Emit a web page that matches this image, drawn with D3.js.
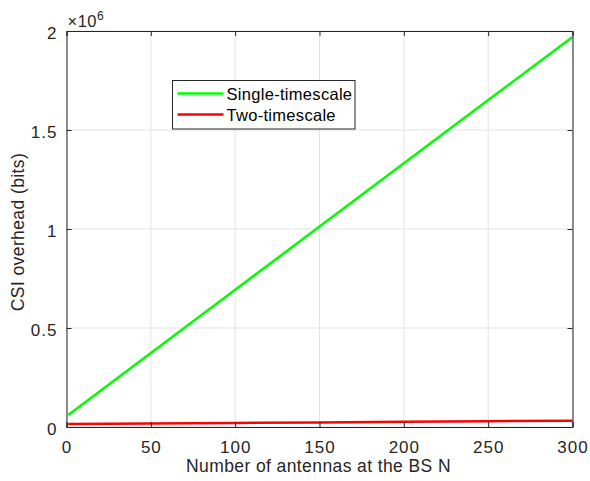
<!DOCTYPE html>
<html>
<head>
<meta charset="utf-8">
<script src="https://cdn.jsdelivr.net/npm/d3@7"></script>
<style>
  html, body { margin: 0; padding: 0; background: #fff; }
  svg { display: block; font-family: "Liberation Sans", Arial, sans-serif; }
</style>
</head>
<body>
<svg id="chart" width="590" height="481"></svg>
<script>
// Number of BS antennas
const antennas = [1, 50, 100, 150, 200, 250, 300];
// CSI overhead in bits for each scheme
const singleTimescale = [61000, 374000, 693000, 1012000, 1332000, 1651000, 1970000];
const twoTimescale = [15000, 18000, 20500, 23000, 26000, 29000, 32000];
const xTicks = [0, 50, 100, 150, 200, 250, 300];
const yTicks = [0, 0.5e6, 1e6, 1.5e6, 2e6];
const seriesNames = ["Single-timescale", "Two-timescale"];
const seriesColors = ["#00ff00", "#ff0000"];

const svg = d3.select("#chart");
const m = { left: 66.5, right: 572.5, top: 31, bottom: 427 };
const axisColor = "#262626";

const x = d3.scaleLinear().domain([0, 300]).range([m.left, m.right]);
const y = d3.scaleLinear().domain([0, 2e6]).range([m.bottom, m.top]);

// grid
svg.append("g").selectAll("line.vg").data(xTicks).join("line")
  .attr("x1", d => x(d)).attr("x2", d => x(d))
  .attr("y1", m.top).attr("y2", m.bottom)
  .attr("stroke", "#e3e3e3").attr("stroke-width", 1);
svg.append("g").selectAll("line.hg").data(yTicks).join("line")
  .attr("x1", m.left).attr("x2", m.right)
  .attr("y1", d => y(d)).attr("y2", d => y(d))
  .attr("stroke", "#e3e3e3").attr("stroke-width", 1);

// data lines
const rows = [singleTimescale, twoTimescale];
const line = d3.line().x((d, i) => x(antennas[i])).y(d => y(d));
rows.forEach((vals, k) => {
  svg.append("path").datum(vals)
    .attr("d", line)
    .attr("fill", "none")
    .attr("stroke", seriesColors[k])
    .attr("stroke-width", 2.5);
});

// axes
const fmtY = d => d === 0 ? "0" : d3.format("~g")(d / 1e6);
const xAxis = d3.axisBottom(x).tickValues(xTicks).tickSize(-5).tickPadding(14).tickFormat(d3.format("d"));
const yAxis = d3.axisLeft(y).tickValues(yTicks).tickSize(-5).tickPadding(9).tickFormat(fmtY);
const xTop = d3.axisTop(x).tickValues(xTicks).tickSize(-5).tickFormat("");
const yRight = d3.axisRight(y).tickValues(yTicks).tickSize(-5).tickFormat("");

function style(g) {
  g.selectAll("path.domain").attr("stroke", axisColor).attr("stroke-width", 1);
  g.selectAll(".tick line").attr("stroke", axisColor);
  g.selectAll(".tick text").attr("fill", axisColor).style("font-size", "17px")
    .style("letter-spacing", "1px")
    .style("font-family", "'Liberation Sans', Arial, sans-serif");
}
svg.append("g").attr("transform", `translate(0,${m.bottom})`).call(xAxis).call(style);
const yg = svg.append("g").attr("transform", `translate(${m.left},0)`).call(yAxis).call(style);
yg.selectAll(".tick text").attr("dy", "0.42em");
svg.append("g").attr("transform", `translate(0,${m.top})`).call(xTop).call(style);
svg.append("g").attr("transform", `translate(${m.right},0)`).call(yRight).call(style);

// exponent label
const ex = svg.append("text").attr("x", m.left + 1).attr("y", m.top - 4)
  .attr("fill", axisColor).style("font-size", "16.5px").style("letter-spacing", "0.5px");
ex.append("tspan").text("\u00d710");
ex.append("tspan").attr("dy", -7).style("font-size", "12px").text("6");

// axis titles
svg.append("text").attr("x", (m.left + m.right) / 2 - 1).attr("y", 472)
  .attr("text-anchor", "middle").attr("fill", axisColor)
  .style("font-size", "17.5px").style("letter-spacing", "0.4px")
  .text("Number of antennas at the BS N");
svg.append("text").attr("transform", `translate(24,${(m.top + m.bottom) / 2 + 3}) rotate(-90)`)
  .attr("text-anchor", "middle").attr("fill", axisColor)
  .style("font-size", "17.5px").style("letter-spacing", "0.4px")
  .text("CSI overhead (bits)");

// legend
const lg = svg.append("g").attr("transform", "translate(172.5,80.5)");
lg.append("rect").attr("width", 182.5).attr("height", 48.5)
  .attr("fill", "#fff").attr("stroke", axisColor).attr("stroke-width", 1);
seriesNames.forEach((name, k) => {
  const yy = 13 + k * 21;
  lg.append("line").attr("x1", 5).attr("x2", 51).attr("y1", yy).attr("y2", yy)
    .attr("stroke", seriesColors[k]).attr("stroke-width", 2.5);
  lg.append("text").attr("x", 54).attr("y", yy + 6).attr("fill", "#000")
    .style("font-size", "16.5px").style("letter-spacing", "0.3px").text(name);
});
</script>
</body>
</html>
